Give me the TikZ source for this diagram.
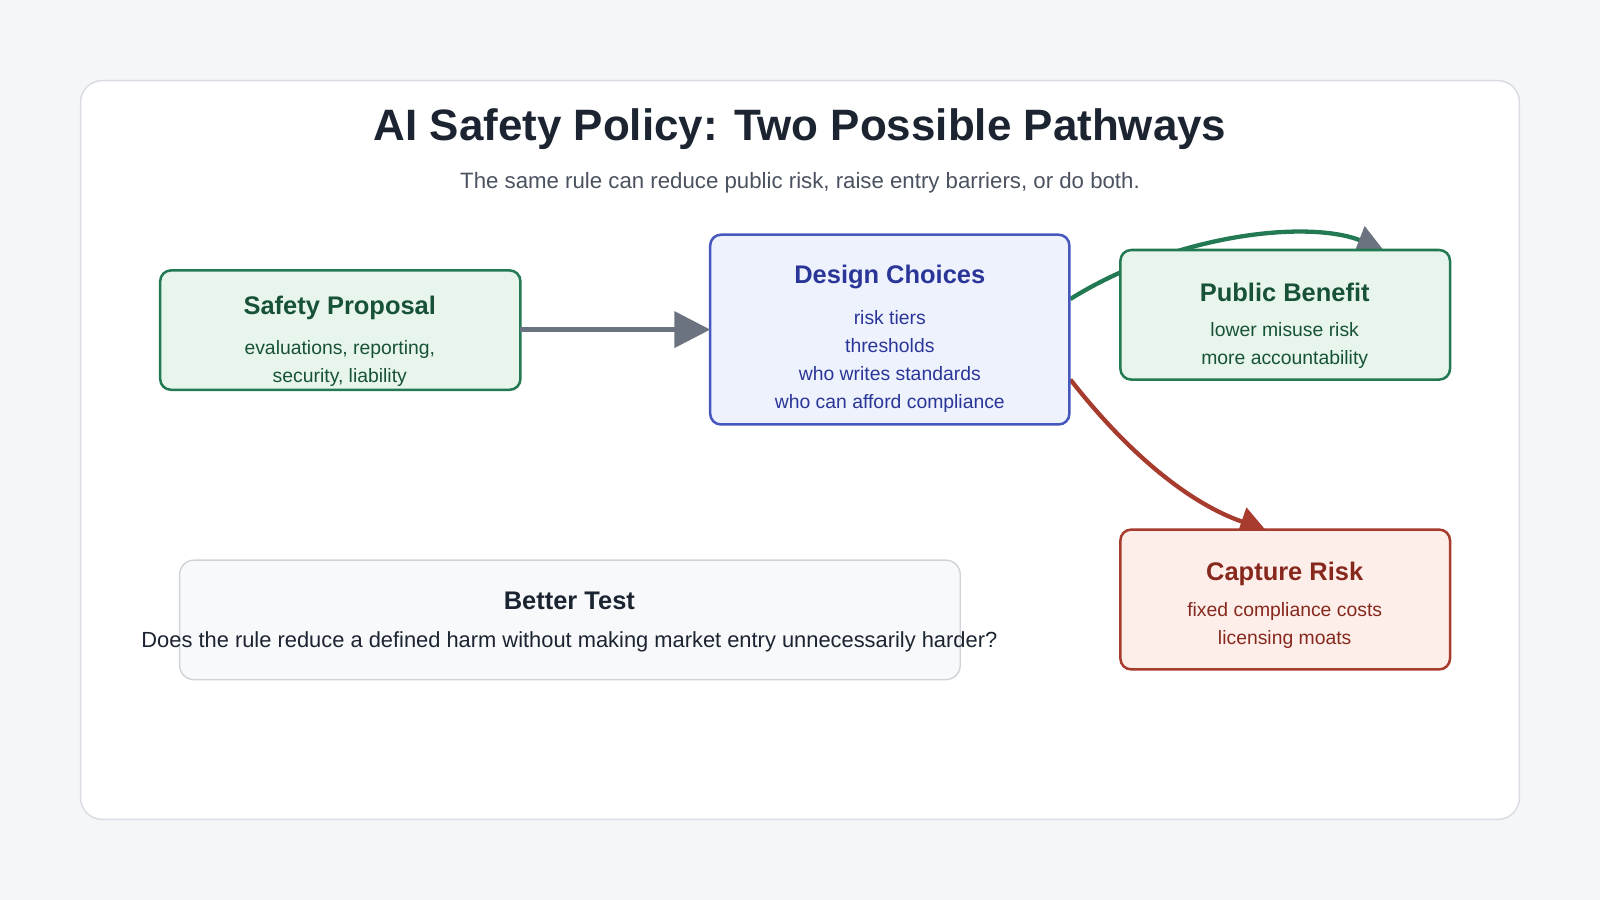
\documentclass[tikz,border=0pt]{standalone}
\usepackage{fontspec}
\setmainfont{Liberation Sans}
\usetikzlibrary{arrows.meta}

\definecolor{pagebg}{HTML}{F5F6F8}
\definecolor{cardline}{HTML}{D8DCE3}
\definecolor{inkdark}{HTML}{1B2430}
\definecolor{inksub}{HTML}{4A5260}
\definecolor{greenline}{HTML}{237A52}
\definecolor{greenfill}{HTML}{E8F5EC}
\definecolor{greenink}{HTML}{175238}
\definecolor{blueline}{HTML}{4657BE}
\definecolor{bluefill}{HTML}{EDF2FD}
\definecolor{blueink}{HTML}{2A3598}
\definecolor{redline}{HTML}{A73B2E}
\definecolor{redfill}{HTML}{FDEEEA}
\definecolor{redink}{HTML}{87281D}
\definecolor{grayarrow}{HTML}{6B7280}
\definecolor{testfill}{HTML}{F8F9FB}
\definecolor{testline}{HTML}{D0D4DA}

\tikzset{
  card/.style = {draw, rounded corners=6pt, line width=1.4pt},
  head/.style = {font=\bfseries\fontsize{14.2}{16}\selectfont},
  body/.style = {font=\fontsize{10.8}{15.6}\selectfont, align=center},
  flow/.style = {line width=2.4pt}
}

\begin{document}
\begin{tikzpicture}[x=0.02cm,y=-0.02cm]
	\fill[pagebg] (0,0) rectangle (1568,882);
	\useasboundingbox (0,0) rectangle (1568,882);
	\draw[cardline, fill=white, line width=0.8pt, rounded corners=12pt] (79,79) rectangle (1489,803);
	
	\node[inkdark, font=\bfseries\fontsize{24.5}{28}\selectfont] (title) at (784,127) {AI Safety Policy: Two Possible Pathways};
	\node[inksub, font=\fontsize{12.4}{14}\selectfont] (subtitle) at (784,179) {The same rule can reduce public risk, raise entry barriers, or do both.};
	
	% connector ends
	\coordinate (spE) at (510,323);
	\coordinate (dcW) at (696,323);
	\coordinate (dcE1) at (1049,293);
	\coordinate (dcE2) at (1049,372);
	\coordinate (pbN) at (1355,244);
	\coordinate (crN) at (1240,519);
	
	% curved connectors, behind the boxes
	\draw[flow, greenline, -{Triangle[length=14pt,width=16pt,color=grayarrow]}] (dcE1) .. controls (1150,230) and (1280,215) .. (pbN);
	\draw[flow, redline, -{Triangle[length=14pt,width=16pt]}] (dcE2) .. controls (1110,450) and (1170,495) .. (crN);
	
	% boxes
	\draw[card, greenline, fill=greenfill] (157,265) rectangle (510,382);
	\node[head, greenink] (sp) at (333,302) {Safety Proposal};
	\node[body, greenink] (spt) at (333,356) {evaluations, reporting,\\security, liability};
	
	\draw[card, blueline, fill=bluefill] (696,230) rectangle (1048,416);
	\node[head, blueink] (dc) at (872,271) {Design Choices};
	\node[body, blueink] (dct) at (872,354) {risk tiers\\thresholds\\who writes standards\\who can afford compliance};
	
	\draw[card, greenline, fill=greenfill] (1098,245) rectangle (1421,372);
	\node[head, greenink] (pb) at (1259,287) {Public Benefit};
	\node[body, greenink] (pbt) at (1259,339) {lower misuse risk\\more accountability};
	
	\draw[card, redline, fill=redfill] (1098,519) rectangle (1421,656);
	\node[head, redink] (cr) at (1259,562) {Capture Risk};
	\node[body, redink] (crt) at (1259,613) {fixed compliance costs\\licensing moats};
	
	\draw[testline, fill=testfill, line width=0.8pt, rounded corners=8pt] (176,549) rectangle (941,666);
	\node[head, inkdark] (bt) at (558,589) {Better Test};
	\node[body, inkdark, font=\fontsize{12.2}{14}\selectfont] (btt) at (558,629) {Does the rule reduce a defined harm without making market entry unnecessarily harder?};
	
	% straight connector
	\draw[flow, grayarrow, -{Triangle[length=20pt,width=20pt]}] (spE) -- (dcW);
\end{tikzpicture}
\end{document}
